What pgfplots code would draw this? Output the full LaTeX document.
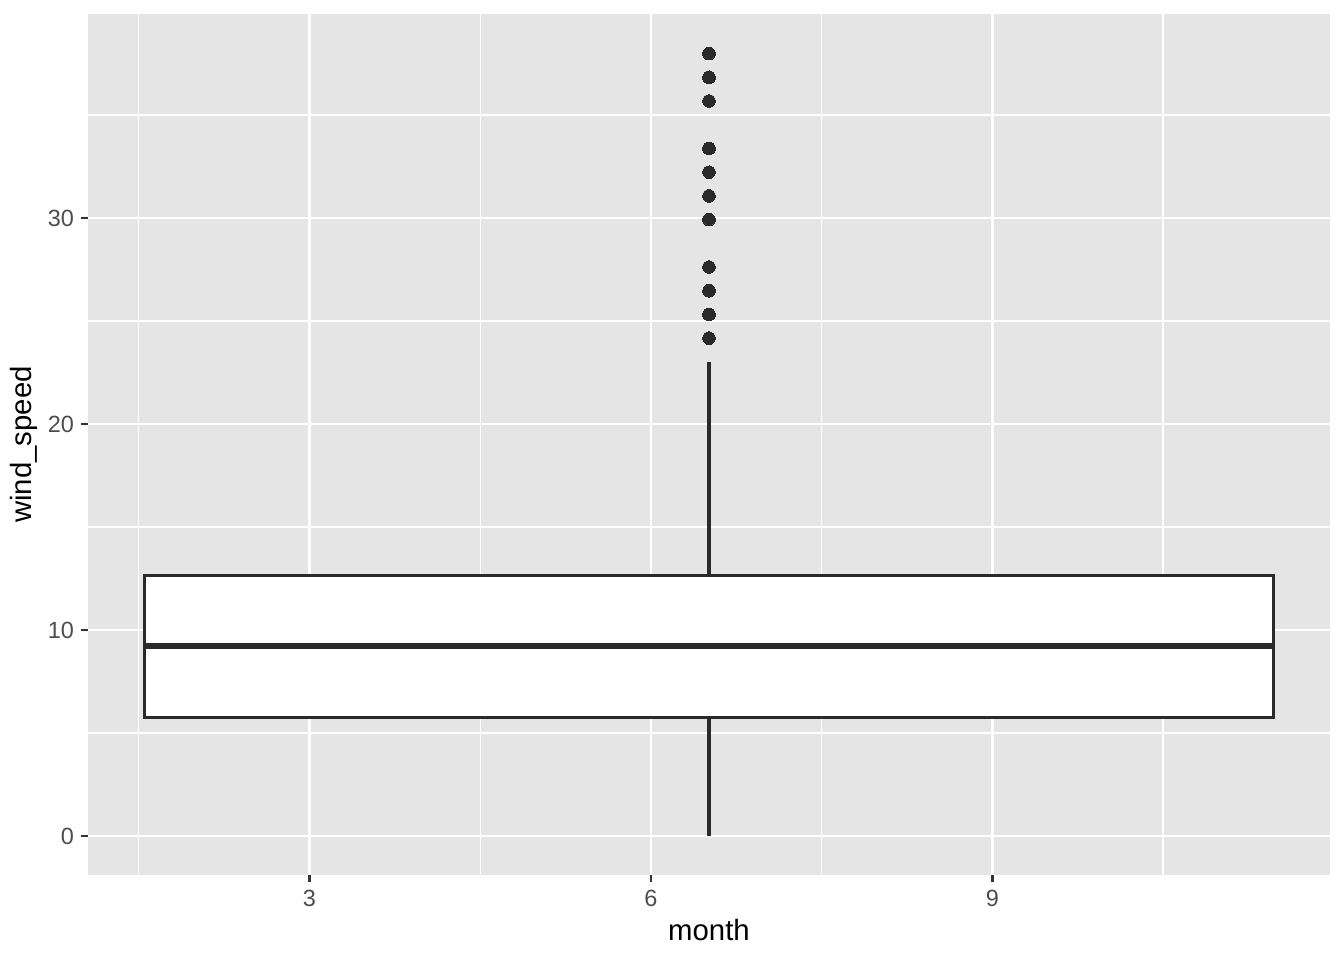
\documentclass[border=0pt]{standalone}
\usepackage{fontspec}
\setmainfont{Liberation Sans}
\usepackage{pgfplots}
\pgfplotsset{compat=1.18}
\usepgfplotslibrary{statistics}

\definecolor{panelbg}{HTML}{E5E5E5}
\definecolor{grey20}{HTML}{333333}
\definecolor{grey30}{HTML}{4D4D4D}
\definecolor{boxcol}{HTML}{2A2A2A}

\begin{document}
\begin{tikzpicture}
\begin{axis}[
  scale only axis,
  width=465.75pt, height=322.9pt,
  xmin=1.054, xmax=11.966,
  ymin=-1.9, ymax=39.9,
  xtick={3,6,9},
  ytick={0,10,20,30},
  minor xtick={1.5,4.5,7.5,10.5},
  minor ytick={5,15,25,35},
  grid=both,
  major grid style={white, line width=1.07pt},
  minor grid style={white, line width=0.53pt},
  axis background/.style={fill=panelbg},
  axis line style={draw=none},
  tick pos=left,
  tick align=outside,
  major tick length=2.75pt,
  minor tick length=0pt,
  major tick style={grey20, line width=1.07pt},
  /pgf/number format/assume math mode=true,
  ticklabel style={font=\fontsize{8.8}{10}\selectfont, text=grey30},
  yticklabel style={xshift=1pt},
  xticklabel style={yshift=0.6pt},
  label style={font=\fontsize{11}{13}\selectfont, text=black},
  xlabel={month},
  ylabel={wind\_speed},
  xlabel style={at={([yshift=-24.4pt]axis description cs:0.5,0)}, anchor=base},
  ylabel style={at={([xshift=-21pt]axis description cs:0,0.5)}, anchor=base},
  boxplot/draw direction=y,
]
% ggplot-style box: no whisker caps, thick median, outliers as filled dots
\addplot[
  boxcol,
  line width=1.07pt,
  mark=*,
  mark size=2.38pt,
  mark options={fill=boxcol, draw=boxcol, line width=0pt},
  boxplot prepared={
    draw position=6.51,
    box extend=9.92,
    whisker extend=0,
    lower whisker=0,
    lower quartile=5.75390,
    median=9.20624,
    upper quartile=12.65858,
    upper whisker=23.01560,
    every box/.style={fill=white, draw=boxcol, line width=1.07pt},
    every median/.style={draw=boxcol, line width=2.13pt},
    every whisker/.style={draw=boxcol, line width=1.2pt},
  },
] table[row sep=\\, y index=0] {
data\\
24.16638\\ 25.31716\\ 26.46794\\ 27.61872\\ 29.92028\\ 31.07106\\
32.22184\\ 33.37262\\ 35.67418\\ 36.82496\\ 37.97574\\
};
\end{axis}
\path ([xshift=-33pt,yshift=-31.9pt]current axis.south west)
  rectangle ([xshift=5.25pt,yshift=5.25pt]current axis.north east);
\end{tikzpicture}
\end{document}
